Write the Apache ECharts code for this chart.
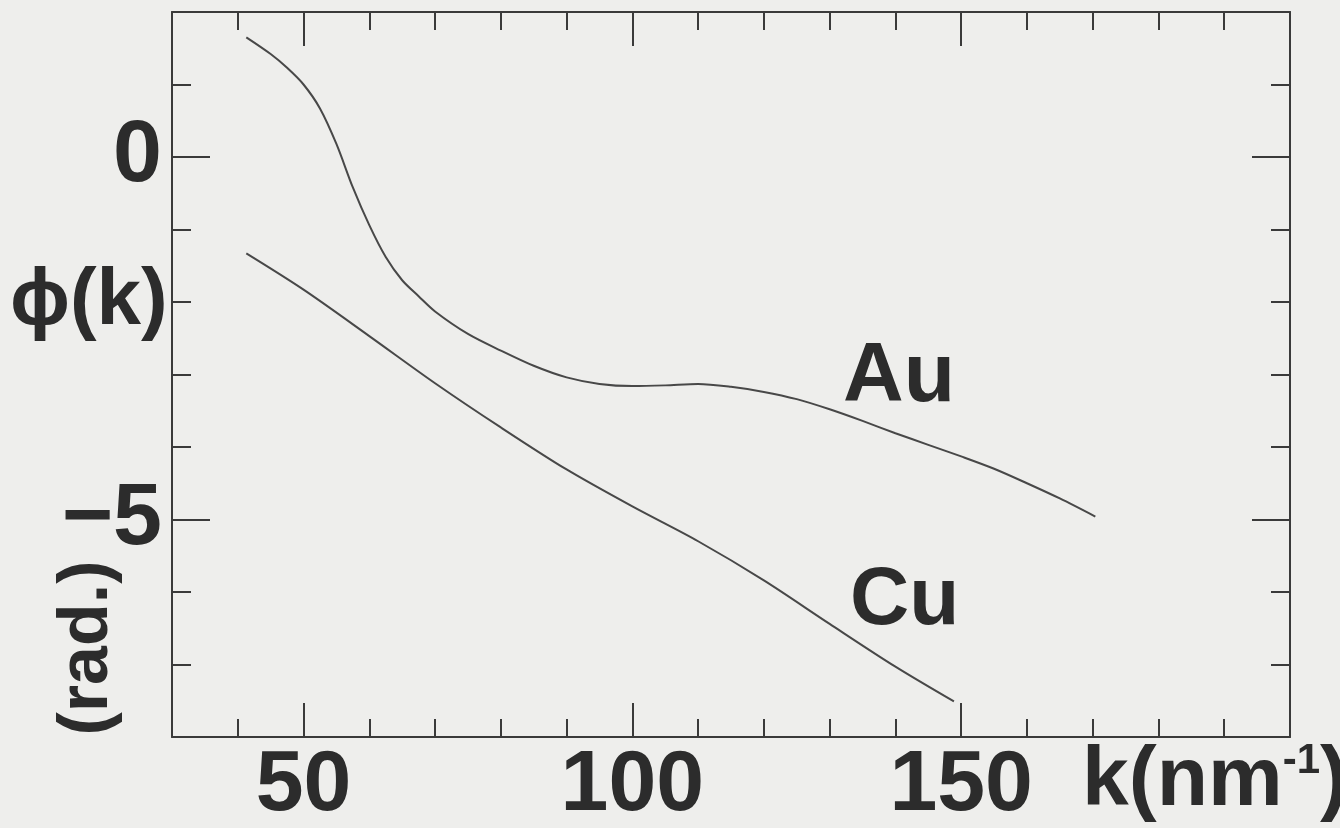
<!DOCTYPE html>
<html>
<head>
<meta charset="utf-8">
<script src="https://cdn.jsdelivr.net/npm/echarts@6/dist/echarts.min.js"></script>
<style>
html, body { margin: 0; padding: 0; background: #eeeeec; }
#chart { width: 1340px; height: 828px; }
</style>
</head>
<body>
<div id="chart"></div>
<script>
// Au 曲线 k (nm^-1) 与 φ (rad)
var auK = [41.3, 45, 47.5, 50, 52.5, 55, 57.5, 60, 62.5, 65, 67.5, 70, 75, 80, 85, 90, 95, 100, 105, 110, 115, 120, 125, 130, 135, 140, 145, 150, 155, 160, 165, 170.4];
var auPhi = [1.65, 1.42, 1.23, 1.00, 0.67, 0.18, -0.42, -0.94, -1.38, -1.70, -1.92, -2.13, -2.44, -2.67, -2.88, -3.04, -3.13, -3.16, -3.15, -3.13, -3.17, -3.24, -3.34, -3.48, -3.64, -3.81, -3.97, -4.13, -4.30, -4.50, -4.71, -4.96];
// Cu 曲线
var cuK = [41.3, 50, 60, 70, 80, 90, 100, 110, 120, 130, 140, 148.9];
var cuPhi = [-1.33, -1.83, -2.47, -3.12, -3.73, -4.31, -4.82, -5.30, -5.84, -6.44, -7.03, -7.51];
// 刻度
var xMajorTicks = [50, 100, 150];
var yMajorTicks = [0, -5];

var ink = '#3a3a3a';
var textInk = '#2c2c2c';
var font = "'Liberation Sans', sans-serif";

function toPairs(xs, ys) {
	var arr = [];
	for (var i = 0; i < xs.length; i++) {
		arr.push([xs[i], ys[i]]);
	}
	return arr;
}

function xAxisDef(position, major) {
	return {
		type: 'value',
		position: position,
		min: 30,
		max: 200,
		interval: major ? undefined : 10,
		axisLine: { show: !major, onZero: false, lineStyle: { color: ink, width: 2 } },
		axisTick: major
			? { show: true, inside: true, length: 34, customValues: xMajorTicks, lineStyle: { color: ink, width: 2 } }
			: { show: true, inside: true, length: 18, lineStyle: { color: ink, width: 2 } },
		axisLabel: (major && position === 'bottom')
			? { show: true, customValues: xMajorTicks, margin: 6, color: textInk, fontSize: 86, fontWeight: 'bold', fontFamily: font }
			: { show: false },
		splitLine: { show: false }
	};
}

function yAxisDef(position, major) {
	return {
		type: 'value',
		position: position,
		min: -8,
		max: 2,
		interval: major ? undefined : 1,
		axisLine: { show: !major, onZero: false, lineStyle: { color: ink, width: 2 } },
		axisTick: major
			? { show: true, inside: true, length: 38, customValues: yMajorTicks, lineStyle: { color: ink, width: 2 } }
			: { show: true, inside: true, length: 19, lineStyle: { color: ink, width: 2 } },
		axisLabel: (major && position === 'left')
			? {
				show: true, customValues: yMajorTicks, margin: 10, color: textInk, fontSize: 88, fontWeight: 'bold', fontFamily: font,
				formatter: function (v) { return String(v).replace('-', '\u2212'); }
			}
			: { show: false },
		splitLine: { show: false }
	};
}

var myChart = echarts.init(document.getElementById('chart'));
var option = {
	backgroundColor: '#eeeeec',
	animation: false,
	grid: { left: 172, right: 50, top: 12, bottom: 91, containLabel: false, outerBoundsMode: 'none' },
	xAxis: [xAxisDef('bottom', false), xAxisDef('bottom', true), xAxisDef('top', false), xAxisDef('top', true)],
	yAxis: [yAxisDef('left', false), yAxisDef('left', true), yAxisDef('right', false), yAxisDef('right', true)],
	series: [
		{
			name: 'Au',
			type: 'line',
			xAxisIndex: 0,
			yAxisIndex: 0,
			data: toPairs(auK, auPhi),
			showSymbol: false,
			smooth: 0.3,
			lineStyle: { color: '#484848', width: 2 }
		},
		{
			name: 'Cu',
			type: 'line',
			xAxisIndex: 0,
			yAxisIndex: 0,
			data: toPairs(cuK, cuPhi),
			showSymbol: false,
			smooth: 0.3,
			lineStyle: { color: '#484848', width: 2 }
		}
	],
	graphic: [
		{ type: 'text', left: 10, top: 262, style: { text: 'ϕ(k)', fill: textInk, font: 'bold 80px ' + font } },
		{
			type: 'text', x: 88, y: 648, rotation: Math.PI / 2,
			style: { text: '(rad.)', fill: textInk, font: 'bold 70px ' + font, textAlign: 'center', textVerticalAlign: 'middle' }
		},
		{ type: 'text', left: 843, top: 336, style: { text: 'Au', fill: textInk, font: 'bold 84px ' + font } },
		{ type: 'text', left: 850, top: 560, style: { text: 'Cu', fill: textInk, font: 'bold 82px ' + font } },
		{
			type: 'text', left: 1082, top: 740,
			style: {
				text: '{a|k(nm}{s|-1}{a|)}',
				rich: {
					a: { fill: textInk, fontSize: 84, fontWeight: 'bold', fontFamily: font },
					s: { fill: textInk, fontSize: 42, fontWeight: 'bold', fontFamily: font, verticalAlign: 'top', padding: [0, 0, 34, 0] }
				}
			}
		}
	]
};
myChart.setOption(option);
</script>
</body>
</html>
